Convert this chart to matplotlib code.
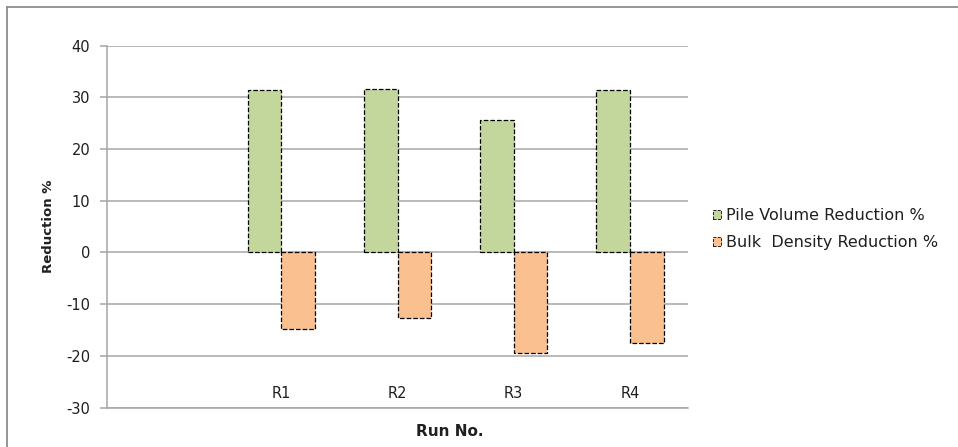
import matplotlib.pyplot as plt
from matplotlib.patches import Patch
from matplotlib.lines import Line2D
import numpy as np

plt.rcParams['font.family'] = ['DejaVu Sans']
plt.rcParams['axes.unicode_minus'] = False

# первая позиция по оси пустая, как в исходной таблице
runs = ['', 'R1', 'R2', 'R3', 'R4']
pile_volume = [np.nan, 31.4, 31.6, 25.5, 31.3]
bulk_density = [np.nan, -14.9, -12.6, -19.5, -17.6]
series_names = ['Pile Volume Reduction %', 'Bulk  Density Reduction %']

green = '#C3D69B'
orange = '#FAC090'
grid_c = '#A6A6A6'
txt_c = '#1F1F1F'

W, H = 958, 447
fig = plt.figure(figsize=(W / 100, H / 100), dpi=100)
ax = fig.add_axes([107 / W, (H - 407.5) / H, (688 - 107) / W, (407.5 - 45.5) / H])

x = np.arange(len(runs))
w = 0.29
ax.bar(x - w / 2, pile_volume, w, color=green, edgecolor='black',
       linestyle='--', linewidth=0.9, zorder=3)
ax.bar(x + w / 2, bulk_density, w, color=orange, edgecolor='black',
       linestyle='--', linewidth=0.9, zorder=3)

ax.set_xlim(-0.5, len(runs) - 0.5)
ax.set_ylim(-30, 40)
ax.set_yticks(range(-30, 41, 10))
ax.yaxis.grid(True, color=grid_c, linewidth=1.1, zorder=0)
ax.set_axisbelow(True)

for s in ['top', 'right']:
    ax.spines[s].set_visible(False)
ax.spines['left'].set_color(grid_c)
ax.spines['bottom'].set_color(grid_c)
ax.spines['left'].set_linewidth(1.1)
ax.spines['bottom'].set_linewidth(1.1)

ax.set_xticks([])
ax.tick_params(axis='y', length=5, width=1.1, color=grid_c, labelsize=10.5,
               labelcolor=txt_c, pad=7)

# подписи прогонов внутри области графика, над нижней осью
for xi, name in zip(x, runs):
    if name:
        ax.text(xi, -27.3, name, ha='center', va='center', fontsize=10.5, color=txt_c)

fig.text(49 / W, (H - 226) / H, 'Reduction %', rotation=90, ha='center', va='center',
         fontsize=9.5, fontweight='bold', color=txt_c)
fig.text(450 / W, (H - 432) / H, 'Run No.', ha='center', va='center',
         fontsize=11, fontweight='bold', color=txt_c)

handles = [Patch(facecolor=green, edgecolor='black', linestyle='--', linewidth=0.6),
           Patch(facecolor=orange, edgecolor='black', linestyle='--', linewidth=0.6)]
fig.legend(handles, series_names, loc='upper left',
           bbox_to_anchor=(713 / W, (H - 208) / H), frameon=False,
           fontsize=11.5, handlelength=0.5, handleheight=0.5,
           handletextpad=0.3, labelspacing=0.78, borderaxespad=0, borderpad=0,
           labelcolor=txt_c)

# рамка диаграммы: видны только верхняя и левая стороны
fig.add_artist(Line2D([7 / W, 7 / W], [0, (H - 7) / H], color='#8C8C8C', linewidth=1.3))
fig.add_artist(Line2D([7 / W, 1], [(H - 7) / H, (H - 7) / H], color='#8C8C8C', linewidth=1.3))

fig.savefig('out.png', dpi=100)
